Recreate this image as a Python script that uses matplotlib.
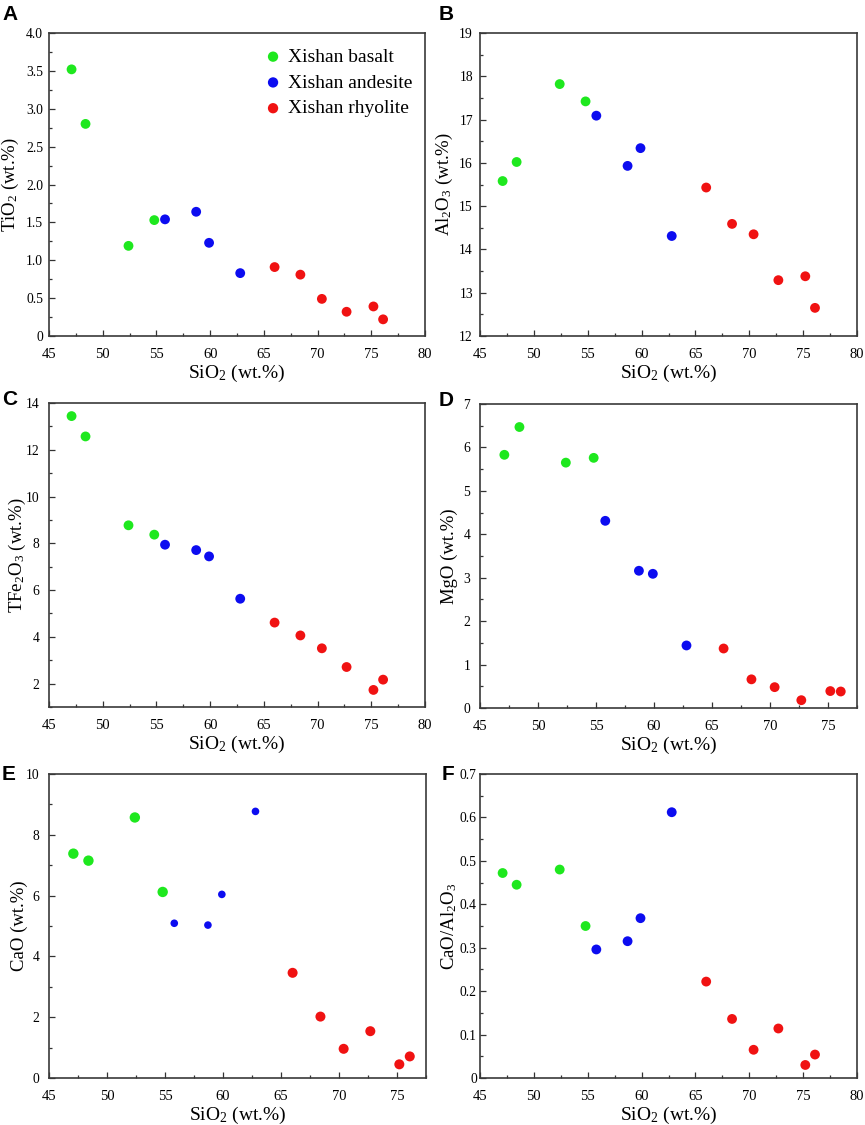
import matplotlib
matplotlib.use("Agg")
import matplotlib.pyplot as plt
from matplotlib.ticker import MultipleLocator, FuncFormatter

plt.rcParams['font.family'] = ['Liberation Serif', 'DejaVu Serif']
plt.rcParams['mathtext.fontset'] = 'custom'
plt.rcParams['mathtext.rm'] = 'Liberation Serif'
plt.rcParams['mathtext.it'] = 'Liberation Serif:italic'

# SiO2 (wt.%) per rock type
sio2_basalt = [47.1, 48.4, 52.4, 54.8]
sio2_andesite = [55.8, 58.7, 59.9, 62.8]
sio2_rhyolite = [66.0, 68.4, 70.4, 72.7, 75.2, 76.1]

tio2_basalt = [3.52, 2.80, 1.19, 1.53]
tio2_andesite = [1.54, 1.64, 1.23, 0.83]
tio2_rhyolite = [0.91, 0.81, 0.49, 0.32, 0.39, 0.22]

al2o3_basalt = [15.58, 16.02, 17.82, 17.42]
al2o3_andesite = [17.09, 15.93, 16.34, 14.31]
al2o3_rhyolite = [15.43, 14.59, 14.35, 13.29, 13.38, 12.65]

tfe2o3_basalt = [13.44, 12.57, 8.77, 8.37]
tfe2o3_andesite = [7.94, 7.71, 7.44, 5.63]
tfe2o3_rhyolite = [4.61, 4.06, 3.51, 2.71, 1.73, 2.17]

mgo_basalt = [5.83, 6.47, 5.65, 5.76]
mgo_andesite = [4.31, 3.16, 3.09, 1.44]
mgo_rhyolite = [1.37, 0.66, 0.48, 0.18, 0.39, 0.38]

cao_basalt = [7.38, 7.15, 8.57, 6.12]
cao_andesite = [5.09, 5.03, 6.04, 8.77]
cao_rhyolite = [3.46, 2.02, 0.96, 1.54, 0.45, 0.71]

ratio_basalt = [0.472, 0.445, 0.480, 0.350]
ratio_andesite = [0.296, 0.315, 0.368, 0.612]
ratio_rhyolite = [0.222, 0.136, 0.065, 0.114, 0.030, 0.054]

labels = ['Xishan basalt', 'Xishan andesite', 'Xishan rhyolite']
colors = ['#1ee81e', '#0c0cf0', '#f01212']

W, H = 865, 1125
fig = plt.figure(figsize=(W / 100, H / 100), dpi=100)


def px(l, t, r, b):
    return [l / W, 1 - b / H, (r - l) / W, (b - t) / H]


# name, axes box (l, t, r, b), data, y label, ylim, ticks, xmax, legend,
# ylabel right edge (px), y tick pad (pt)
panels = [
    ('A', (49, 33, 425, 336), tio2_basalt, tio2_andesite, tio2_rhyolite,
     r'TiO$_2$ (wt.%)', (0, 4), 0.5, 0.25, 80, True, 21, 4.3),
    ('B', (480, 33, 857, 336), al2o3_basalt, al2o3_andesite, al2o3_rhyolite,
     r'Al$_2$O$_3$ (wt.%)', (12, 19), 1, 0.5, 80, False, 455, 5.0),
    ('C', (49, 403, 425, 707), tfe2o3_basalt, tfe2o3_andesite, tfe2o3_rhyolite,
     r'TFe$_2$O$_3$ (wt.%)', (1, 14), 2, 1, 80, False, 28, 7.0),
    ('D', (480, 404, 857, 708), mgo_basalt, mgo_andesite, mgo_rhyolite,
     'MgO (wt.%)', (0, 7), 1, 0.5, 77.5, False, 458, 7.0),
    ('E', (49, 774, 426, 1078), cao_basalt, cao_andesite, cao_rhyolite,
     'CaO (wt.%)', (0, 10), 2, 1, 77.5, False, 28, 7.0),
    ('F', (480, 774, 857, 1078), ratio_basalt, ratio_andesite, ratio_rhyolite,
     r'CaO/Al$_2$O$_3$', (0, 0.7), 0.1, 0.05, 80, False, 459, 2.3),
]

letter_pos = {'A': (2, 5), 'B': (439, 5), 'C': (2, 390), 'D': (439, 391),
              'E': (2, 765), 'F': (442, 765)}

for name, box, yb, ya, yr, ylab, ylim, major, minor, xmax, legend, ylx, ypad in panels:
    ax = fig.add_axes(px(*box))
    sizes = [50, 50, 50]
    if name == 'E':
        sizes = [56, 30, 52]
    for xs, ys, c, lab, s in zip([sio2_basalt, sio2_andesite, sio2_rhyolite],
                                 [yb, ya, yr], colors, labels, sizes):
        ax.scatter(xs, ys, s=s, color=c, edgecolors='none', label=lab, zorder=3)
    ax.set_xlim(45, xmax)
    ax.set_ylim(*ylim)
    ax.xaxis.set_major_locator(MultipleLocator(5))
    ax.xaxis.set_minor_locator(MultipleLocator(2.5))
    ax.yaxis.set_major_locator(MultipleLocator(major))
    ax.yaxis.set_minor_locator(MultipleLocator(minor))
    if major < 1:
        ax.yaxis.set_major_formatter(FuncFormatter(lambda v, p: '0' if abs(v) < 1e-9 else '%.1f' % v))
    else:
        ax.yaxis.set_major_formatter(FuncFormatter(lambda v, p: '%d' % round(v)))
    ax.tick_params(which='both', direction='in', top=False, right=False,
                   color='#333333', width=0.9)
    ax.tick_params(which='major', length=4.5)
    ax.tick_params(which='minor', length=2.5)
    ax.tick_params(axis='x', which='major', pad=8.5, labelsize=10.5)
    ax.tick_params(axis='y', which='major', pad=ypad, labelsize=9.8)
    for sp in ax.spines.values():
        sp.set_color('#3a3a3a')
        sp.set_linewidth(1.2)
    ax.set_xlabel(r'SiO$_2$ (wt.%)', fontsize=14, labelpad=1.5)
    ax.set_ylabel(ylab, fontsize=13.5)
    ax.yaxis.set_label_coords((ylx - box[0]) / (box[2] - box[0]), 0.5)
    if legend:
        ax.legend(loc='upper left', bbox_to_anchor=(0.57, 0.95), frameon=False,
                  fontsize=14, handlelength=1.0, handletextpad=0.25,
                  labelspacing=0.42, borderaxespad=0, borderpad=0, markerscale=1.05)
    lx, ly = letter_pos[name]
    fig.text(lx / W, 1 - ly / H, name, fontsize=15, fontweight='bold',
             family=['Liberation Sans', 'DejaVu Sans'], va='top', ha='left')

fig.savefig('out.png', dpi=100)
